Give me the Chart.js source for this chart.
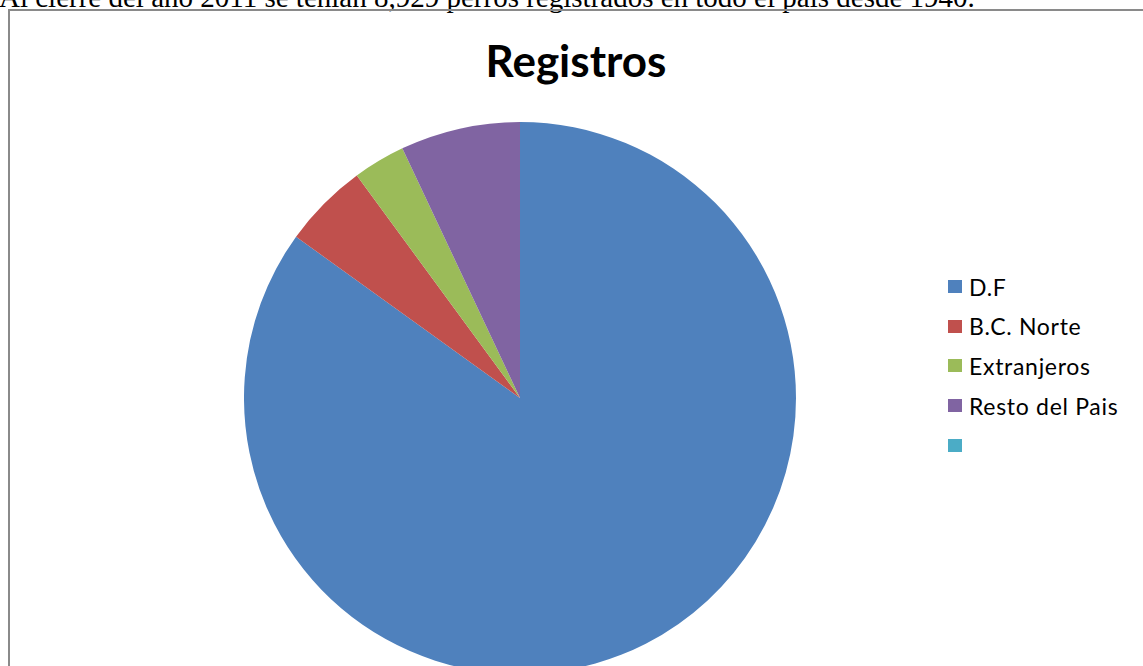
<!DOCTYPE html>
<html>
<head>
<meta charset="utf-8">
<script src="https://cdn.jsdelivr.net/npm/chart.js@4"></script>
<style>
  html, body { margin: 0; padding: 0; background: #fff; overflow: hidden; width: 1143px; height: 666px; }
  #intro { position: absolute; left: -1px; top: -17px; font-family: "Liberation Serif", serif; font-size: 29px; line-height: 28px; white-space: nowrap; color: #000; }
  #box { position: absolute; left: 8px; top: 9px; width: 1200px; height: 720px; border: 2px solid #8a8a8a; box-sizing: border-box; }
  #title { position: absolute; left: 0; top: 34px; width: 1152px; text-align: center; font-family: Lato, sans-serif; font-weight: bold; font-size: 44px; color: #000; }
  #pie { position: absolute; left: 244px; top: 122px; }
  #legend { position: absolute; left: 948px; top: 267px; font-family: Lato, sans-serif; font-size: 23px; letter-spacing: 0.7px; color: #000; }
  #legend div { height: 39.6px; display: flex; align-items: center; }
  #legend span.sw { display: inline-block; width: 14px; height: 13px; margin-right: 7px; }
</style>
</head>
<body>
<div id="intro">Al cierre del año 2011 se tenían 8,929 perros registrados en todo el país desde 1940.</div>
<div id="box"></div>
<div id="title">Registros</div>
<canvas id="pie" width="552" height="552"></canvas>
<div id="legend"></div>
<script>
//data
var labels = ["D.F", "B.C. Norte", "Extranjeros", "Resto del Pais", ""];
var values = [7584, 446, 273, 626, 0];
var colors = ["#4F81BD", "#C0504D", "#9BBB59", "#8064A2", "#4BACC6"];

//legend
var legend = document.getElementById("legend");
labels.forEach(function (l, i) {
    var row = document.createElement("div");
    row.innerHTML = '<span class="sw" style="background:' + colors[i] + '"></span>' + l;
    legend.appendChild(row);
});

//pie
var ctx = document.getElementById("pie").getContext("2d");
var myChart = new Chart(ctx, {
    type: 'pie',
    data: {
        labels: labels,
        datasets: [{
            data: values,
            backgroundColor: colors,
            borderWidth: 0
        }]
    },
    options: {
        responsive: false,
        animation: false,
        layout: { padding: 0 },
        plugins: {
            legend: { display: false },
            tooltip: { enabled: false }
        }
    }
});
</script>
</body>
</html>
